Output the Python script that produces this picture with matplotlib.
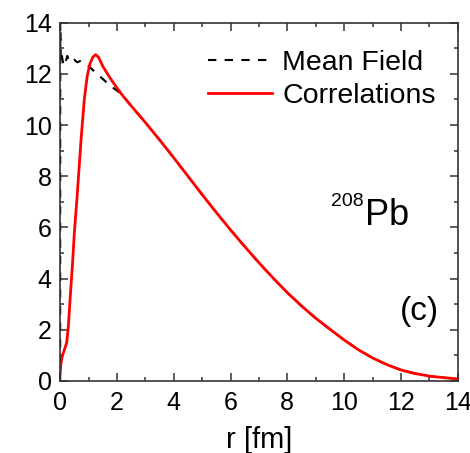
import matplotlib
matplotlib.use("Agg")
import matplotlib.pyplot as plt
from matplotlib.ticker import MultipleLocator

plt.rcParams['font.family'] = ['Liberation Sans', 'DejaVu Sans']

# correlated density (red)
r_corr = [0, 0.03, 0.08, 0.15, 0.23, 0.29, 0.35, 0.43, 0.5, 0.59, 0.74, 0.85,
          0.95, 1.05, 1.15, 1.25, 1.35, 1.5, 1.75, 2.0, 2.2, 2.5, 3.0, 3.5,
          4.0, 4.5, 5.0, 5.5, 6.0, 6.5, 7.0, 7.5, 8.0, 8.5, 9.0, 9.5, 10.0,
          10.5, 11.0, 11.5, 12.0, 12.5, 13.0, 13.5, 14.0]
rho_corr = [0.3, 0.7, 1.0, 1.22, 1.5, 2.15, 3.2, 4.5, 5.8, 7.1, 9.5, 11.0,
            11.9, 12.4, 12.65, 12.75, 12.65, 12.3, 11.85, 11.45, 11.15, 10.75,
            10.1, 9.42, 8.72, 8.0, 7.28, 6.58, 5.9, 5.25, 4.62, 4.02, 3.45,
            2.93, 2.45, 2.02, 1.6, 1.22, 0.9, 0.64, 0.43, 0.29, 0.19, 0.13, 0.08]

# mean field density (black dashed), joins the correlated curve at r = 2.2
r_mf_head = [0, 0.005, 0.02, 0.06, 0.1, 0.15, 0.2, 0.25, 0.3, 0.35, 0.4, 0.5,
             0.6, 0.7, 0.8, 0.9, 1.0, 1.2, 1.4, 1.6, 1.8, 2.0]
rho_mf_head = [0.0, 16.0, 12.5, 12.7, 12.45, 12.65, 12.5, 12.7, 12.55, 12.6,
               12.5, 12.55, 12.45, 12.5, 12.4, 12.35, 12.3, 12.1, 11.9, 11.7,
               11.5, 11.35]

r_mf = r_mf_head + [r for r in r_corr if r >= 2.2]
rho_mf = rho_mf_head + [v for r, v in zip(r_corr, rho_corr) if r >= 2.2]

fig = plt.figure(figsize=(4.7, 4.53), dpi=100)
ax = fig.add_axes([0.128, 0.159, 0.846, 0.791])

ax.plot(r_mf, rho_mf, '--', color='black', lw=1.5, dashes=(4, 4), label='Mean Field')
ax.plot(r_corr, rho_corr, '-', color='red', lw=2.0, label='Correlations')

ax.set_xlim(0, 14)
ax.set_ylim(0, 14)
ax.xaxis.set_major_locator(MultipleLocator(2))
ax.xaxis.set_minor_locator(MultipleLocator(1))
ax.yaxis.set_major_locator(MultipleLocator(2))
ax.yaxis.set_minor_locator(MultipleLocator(1))
ax.tick_params(which='both', direction='in', top=True, right=True,
               labelsize=18, width=1.1, color='#333333')
ax.tick_params(which='major', length=6)
ax.tick_params(which='minor', length=3)
ax.tick_params(axis='x', which='major', pad=7)
ax.tick_params(axis='y', which='major', pad=6)
for s in ax.spines.values():
    s.set_linewidth(1.2)
    s.set_color('#333333')

ax.set_xlabel('r [fm]', fontsize=21, labelpad=8)

ax.legend(loc='upper left', bbox_to_anchor=(0.372, 0.923), frameon=False,
          fontsize=20.5, handlelength=2.25, handletextpad=0.35,
          labelspacing=0.22, borderaxespad=0, borderpad=0)

ax.text(10.74, 6.09, 'Pb', fontsize=26, ha='left', va='baseline')
ax.text(10.67, 6.84, '208', fontsize=14, ha='right', va='baseline')
ax.text(12.64, 2.71, '(c)', fontsize=24, ha='center', va='center')

fig.savefig('out.png', dpi=100)
